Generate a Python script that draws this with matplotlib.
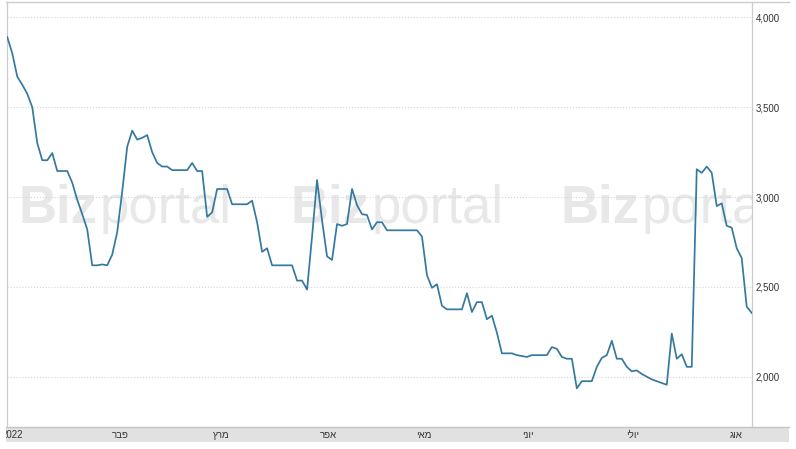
import matplotlib
matplotlib.use("Agg")
import matplotlib.pyplot as plt
from matplotlib.lines import Line2D
import matplotlib.transforms as mtransforms

# daily closing values (one per trading day, Jan - Aug 2022)
values = [
    3890, 3800, 3670, 3625, 3575, 3500, 3300, 3205, 3205, 3245,
    3145, 3145, 3145, 3080, 2985, 2905, 2820, 2620, 2620, 2625,
    2620, 2680, 2805, 3030, 3280, 3370, 3320, 3330, 3345, 3250,
    3190, 3170, 3170, 3150, 3150, 3150, 3150, 3190, 3145, 3145,
    2890, 2915, 3045, 3045, 3045, 2960, 2960, 2960, 2960, 2980,
    2860, 2695, 2715, 2620, 2620, 2620, 2620, 2620, 2535, 2535,
    2485, 2780, 3095, 2870, 2670, 2650, 2850, 2840, 2850, 3045,
    2955, 2905, 2900, 2820, 2860, 2860, 2815, 2815, 2815, 2815,
    2815, 2815, 2815, 2780, 2565, 2495, 2515, 2395, 2375, 2375,
    2375, 2375, 2465, 2360, 2415, 2415, 2320, 2340, 2245, 2130,
    2130, 2130, 2120, 2115, 2110, 2120, 2120, 2120, 2120, 2165,
    2155, 2110, 2100, 2100, 1935, 1975, 1975, 1975, 2055, 2105,
    2120, 2200, 2100, 2100, 2055, 2030, 2035, 2015, 2000, 1985,
    1975, 1965, 1955, 2240, 2100, 2125, 2055, 2055, 3155, 3135,
    3170, 3135, 2950, 2965, 2840, 2830, 2715, 2660, 2390, 2355,
]

month_labels = ['2022', 'פבר', 'מרץ', 'אפר', 'מאי', 'יוני', 'יולי', 'אוג']
month_pos = [1.1, 22.8, 42.7, 64.4, 83.5, 104.3, 125.1, 145.8]   # in trading-day index

y_ticks = [2000, 2500, 3000, 3500, 4000]

W, H = 796, 449


def fx(px):
    return px / W


def fy(py):
    return 1 - py / H


def visual(s):
    # matplotlib has no bidi support, so hebrew has to be flipped by hand
    if any('\u0590' <= c <= '\u05ff' for c in s):
        return s[::-1]
    return s


plt.rcParams['font.family'] = ['Liberation Sans', 'DejaVu Sans']

fig = plt.figure(figsize=(W / 100, H / 100), dpi=100)

# main plot area
ax = fig.add_axes([fx(7), fy(427), (752 - 7) / W, (427 - 2) / H])
ax.plot(range(len(values)), values, color='#35799f', lw=1.25, zorder=3)
ax.set_xlim(-0.06, 149.06)
ax.set_ylim(1720, 4086)
ax.set_xticks([])
ax.yaxis.tick_right()
ax.set_yticks(y_ticks)
ax.set_yticklabels(['{:,}'.format(v) for v in y_ticks], fontsize=7, color='#333333')
ax.tick_params(axis='y', length=0, pad=2.5)
ax.grid(axis='y', color='#d5d5d5', linestyle=':', lw=0.8)
for side in ['top', 'bottom']:
    ax.spines[side].set_visible(False)
for side in ['left', 'right']:
    ax.spines[side].set_color('#cccccc')
    ax.spines[side].set_linewidth(0.9)

# watermark, clipped to the plot area
for x0 in [18, 290, 560]:
    ax.text(fx(x0), fy(223), 'Biz', transform=fig.transFigure, fontsize=38,
            fontweight='bold', color='#e8e8e8', va='baseline', ha='left',
            zorder=0, clip_on=True)
    ax.text(fx(x0 + 82), fy(223), 'portal', transform=fig.transFigure, fontsize=38,
            color='#e8e8e8', va='baseline', ha='left', zorder=0, clip_on=True)

# grey band holding the month names
band = fig.add_axes([fx(6), fy(442), (789 - 6) / W, 15 / H])
band.set_facecolor('#e1e1e1')
band.set_xlim((6 - 6.7) / 5, (789 - 6.7) / 5)
band.set_ylim(0, 1)
band.set_xticks([])
band.set_yticks([])
for side in ['left', 'right', 'bottom']:
    band.spines[side].set_visible(False)
band.spines['top'].set_color('#c4c4c4')
band.spines['top'].set_linewidth(1.0)
trans = mtransforms.blended_transform_factory(band.transData, band.transAxes)
for pos, lab in zip(month_pos, month_labels):
    band.text(pos, 0.5, visual(lab), transform=trans, fontsize=7, color='#333333',
              ha='center', va='center', clip_on=True)

# thin frame line along the top
fig.add_artist(Line2D([fx(6), fx(789)], [fy(2), fy(2)], color='#cccccc', lw=1.0))

fig.savefig('out.png', dpi=100)
